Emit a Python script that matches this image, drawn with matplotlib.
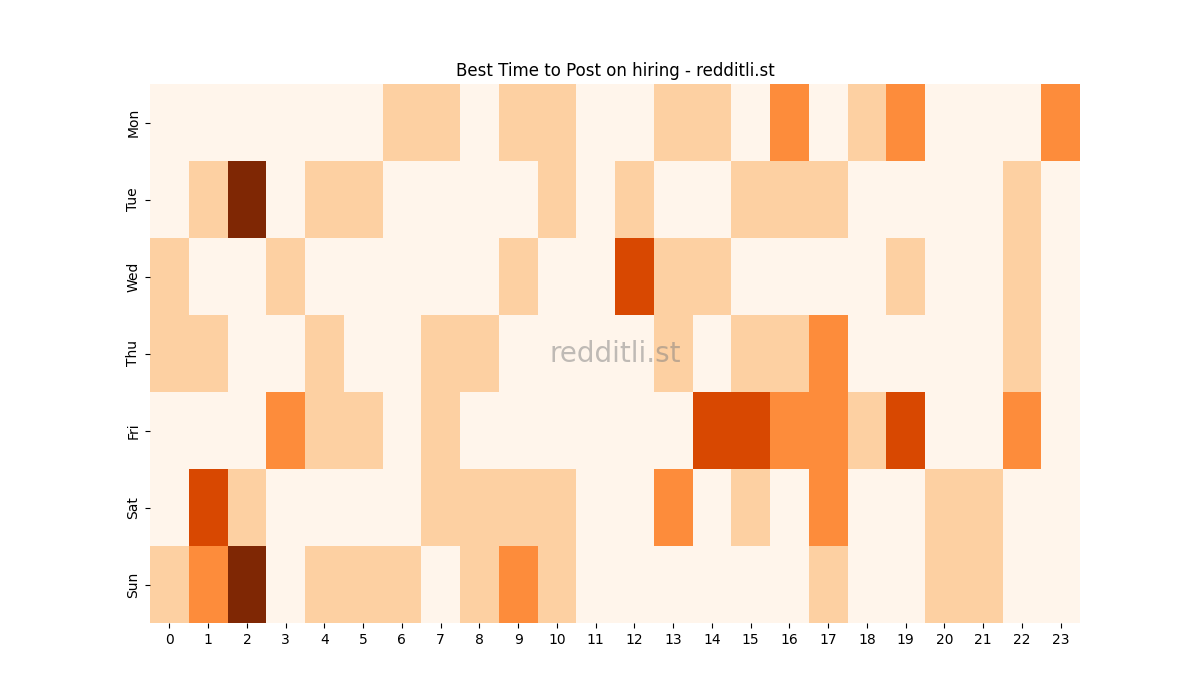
import matplotlib
matplotlib.use("Agg")
import matplotlib.pyplot as plt
import seaborn as sns
import numpy as np

days = ['Mon', 'Tue', 'Wed', 'Thu', 'Fri', 'Sat', 'Sun']
hours = list(range(24))

# niveles de actividad por hora (0-4)
mon = [0, 0, 0, 0, 0, 0, 1, 1, 0, 1, 1, 0, 0, 1, 1, 0, 2, 0, 1, 2, 0, 0, 0, 2]
tue = [0, 1, 4, 0, 1, 1, 0, 0, 0, 0, 1, 0, 1, 0, 0, 1, 1, 1, 0, 0, 0, 0, 1, 0]
wed = [1, 0, 0, 1, 0, 0, 0, 0, 0, 1, 0, 0, 3, 1, 1, 0, 0, 0, 0, 1, 0, 0, 1, 0]
thu = [1, 1, 0, 0, 1, 0, 0, 1, 1, 0, 0, 0, 0, 1, 0, 1, 1, 2, 0, 0, 0, 0, 1, 0]
fri = [0, 0, 0, 2, 1, 1, 0, 1, 0, 0, 0, 0, 0, 0, 3, 3, 2, 2, 1, 3, 0, 0, 2, 0]
sat = [0, 3, 1, 0, 0, 0, 0, 1, 1, 1, 1, 0, 0, 2, 0, 1, 0, 2, 0, 0, 1, 1, 0, 0]
sun = [1, 2, 4, 0, 1, 1, 1, 0, 1, 2, 1, 0, 0, 0, 0, 0, 0, 1, 0, 0, 1, 1, 0, 0]

data = np.array([mon, tue, wed, thu, fri, sat, sun])

fig, ax = plt.subplots(figsize=(12, 7), dpi=100)
sns.heatmap(data, cmap='Oranges', vmin=0, vmax=4, cbar=False,
            xticklabels=hours, yticklabels=days, ax=ax)
ax.set_title('Best Time to Post on hiring - redditli.st')
ax.text(0.5, 0.5, 'redditli.st', transform=ax.transAxes, ha='center', va='center',
        fontsize=20, color='grey', alpha=0.5)
plt.yticks(rotation=90, va='center')
plt.xticks(rotation=0)

plt.savefig('out.png')
